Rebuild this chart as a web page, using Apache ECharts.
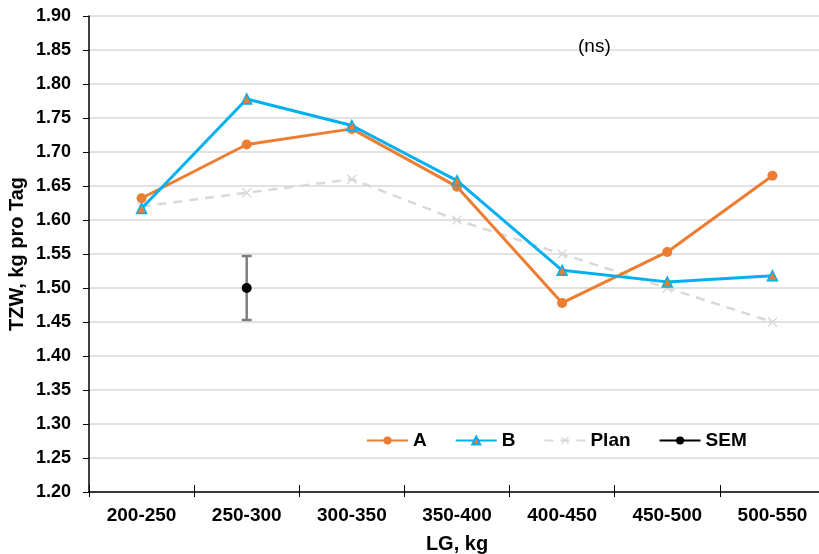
<!DOCTYPE html>
<html><head><meta charset="utf-8">
<script src="https://cdn.jsdelivr.net/npm/echarts@6/dist/echarts.min.js"></script>
<style>html,body{margin:0;padding:0;background:#fff}#c{width:819px;height:554px}</style>
</head><body><div id="c"></div>
<script>
const categories = ['200-250','250-300','300-350','350-400','400-450','450-500','500-550'];
const seriesA = [1.632, 1.711, 1.734, 1.649, 1.478, 1.553, 1.665];
const seriesB = [1.617, 1.778, 1.739, 1.658, 1.526, 1.509, 1.518];
const seriesPlan = [1.62, 1.64, 1.66, 1.60, 1.55, 1.50, 1.45];
const semCategory = '250-300';
const semValue = 1.50;
const semError = 0.047;
const yMin = 1.20, yMax = 1.90, yStep = 0.05;

const FONT = '"Liberation Sans", Arial, sans-serif';
const chart = echarts.init(document.getElementById('c'));
const xPath = 'path://M0,1 L1,0 L5,4 L9,0 L10,1 L6,5 L10,9 L9,10 L5,6 L1,10 L0,9 L4,5 Z';

chart.setOption({
  animation: false,
  textStyle: {fontFamily: FONT},
  grid: {left: 89, top: 16, width: 736, height: 476, outerBoundsMode: 'none', containLabel: false},
  legend: {
    left: 361, top: 426, itemWidth: 41, itemHeight: 10, itemGap: 28,
    textStyle: {fontFamily: FONT, fontSize: 19, fontWeight: 'bold', color: '#000'},
    data: ['A','B','Plan','SEM']
  },
  graphic: [{type: 'text', left: 578, top: 37, z: 100, style: {text: '(ns)', fontFamily: FONT, fontSize: 19, fill: '#000'}}],
  xAxis: [{
    type: 'category', data: categories, boundaryGap: true,
    name: 'LG, kg', nameLocation: 'middle', nameGap: 42,
    nameTextStyle: {fontFamily: FONT, fontSize: 20, fontWeight: 'bold', color: '#000'},
    axisLine: {lineStyle: {color: '#000', width: 1.5}},
    axisTick: {show: true, length: 5, lineStyle: {color: '#000'}},
    axisLabel: {fontFamily: FONT, fontSize: 19, fontWeight: 'bold', color: '#000', margin: 14},
    splitLine: {show: false}
  }, {
    type: 'category', data: categories, position: 'bottom', boundaryGap: true,
    axisLine: {show: false}, axisLabel: {show: false},
    axisTick: {show: true, inside: true, length: 7, lineStyle: {color: '#000'}}
  }],
  yAxis: {
    type: 'value', min: yMin, max: yMax, interval: yStep,
    name: 'TZW, kg pro Tag', nameLocation: 'middle', nameGap: 62, nameMoveOverlap: false,
    nameTextStyle: {fontFamily: FONT, fontSize: 20, fontWeight: 'bold', color: '#000'},
    axisLine: {show: true, lineStyle: {color: '#000', width: 1.5}},
    axisTick: {show: true, length: 6, lineStyle: {color: '#000'}},
    axisLabel: {fontFamily: FONT, fontSize: 18, fontWeight: 'bold', color: '#000', margin: 18,
      formatter: v => v.toFixed(2)},
    splitLine: {show: true, lineStyle: {color: '#D9D9D9', width: 1.5}}
  },
  series: [
    {name: 'Plan', type: 'line', data: seriesPlan, z: 2,
      lineStyle: {color: '#D9D9D9', width: 2.5, type: [9, 7]},
      itemStyle: {color: '#D9D9D9'}, symbol: xPath, symbolSize: 10, showSymbol: true},
    {name: 'A', type: 'line', data: seriesA, z: 3,
      lineStyle: {color: '#ED7D31', width: 3},
      itemStyle: {color: '#ED7D31'}, symbol: 'circle', symbolSize: 10},
    {name: 'B', type: 'line', data: seriesB, z: 4,
      lineStyle: {color: '#00B0F0', width: 3},
      itemStyle: {color: '#ED7D31', borderColor: '#00B0F0', borderWidth: 1.5}, symbol: 'triangle', symbolSize: 10},
    {name: 'SEM-bar', type: 'custom', z: 5,
      data: [[semCategory, semValue - semError, semValue + semError]],
      renderItem: function (params, api) {
        const lo = api.coord([api.value(0), api.value(1)]);
        const hi = api.coord([api.value(0), api.value(2)]);
        const w = 5;
        const st = {stroke: '#7F7F7F', lineWidth: 2.5};
        return {type: 'group', children: [
          {type: 'line', shape: {x1: lo[0], y1: lo[1], x2: hi[0], y2: hi[1]}, style: st},
          {type: 'line', shape: {x1: lo[0]-w, y1: lo[1], x2: lo[0]+w, y2: lo[1]}, style: st},
          {type: 'line', shape: {x1: hi[0]-w, y1: hi[1], x2: hi[0]+w, y2: hi[1]}, style: st}
        ]};
      }
    },
    {name: 'SEM', type: 'line', data: [[semCategory, semValue]], z: 6,
      lineStyle: {color: '#000', width: 3}, itemStyle: {color: '#000'}, symbol: 'circle', symbolSize: 10}
  ]
});
</script></body></html>
